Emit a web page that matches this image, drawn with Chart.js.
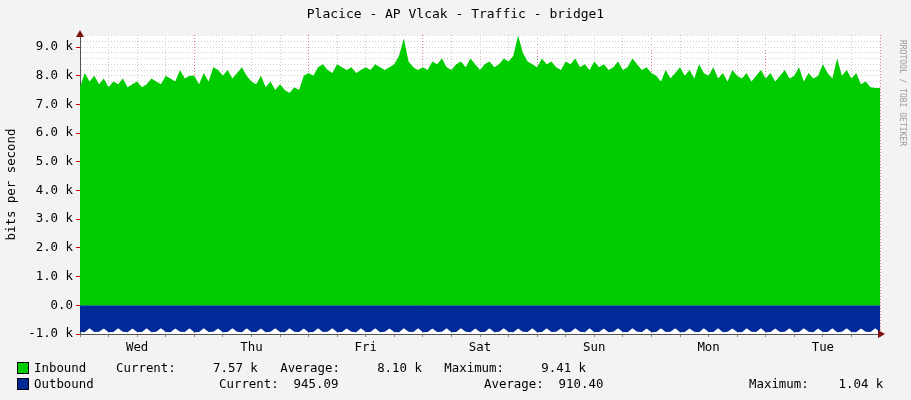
<!DOCTYPE html>
<html>
<head>
<meta charset="utf-8">
<script src="https://cdn.jsdelivr.net/npm/chart.js@4"></script>
<style>
  body { margin: 0; background: #f3f3f3; font-family: 'DejaVu Sans Mono', monospace; }
  #wrap { position: relative; width: 911px; height: 400px; }
  .t { position: absolute; font-size: 12.4px; color: #000; white-space: pre; }
  .box { position: absolute; width: 10px; height: 10px; border: 1px solid #000; }
  #side { position: absolute; left: 898px; top: 40px; font-size: 8px; color: #999; writing-mode: vertical-rl; }
</style>
</head>
<body>
<div id="wrap">
  <canvas id="myChart" width="911" height="400"></canvas>
  <div class="t" style="left:0;width:911px;text-align:center;top:6px;font-size:13px">Placice - AP Vlcak - Traffic - bridge1</div>
  <div id="side">RRDTOOL / TOBI OETIKER</div>
  <div class="box" style="left:17px;top:362px;background:#00cc00"></div>
  <div class="t" style="left:34px;top:360px">Inbound    Current:     7.57 k   Average:     8.10 k   Maximum:     9.41 k</div>
  <div class="box" style="left:17px;top:378px;background:#002a97"></div>
  <div class="t" style="left:34px;top:376px">Outbound</div>
  <div class="t" style="left:219px;top:376px">Current:  945.09</div>
  <div class="t" style="left:484px;top:376px">Average:  910.40</div>
  <div class="t" style="left:749px;top:376px">Maximum:    1.04 k</div>
</div>
<script>
const dayLabels = ['Wed', 'Thu', 'Fri', 'Sat', 'Sun', 'Mon', 'Tue'];

// inbound, k bits/s, hourly from Wed 00:00
const inbound = [
  7.6,8.1,7.8,8.0,7.7,7.9,7.6,7.8,7.7,7.9,7.6,7.7,7.8,7.6,7.7,7.9,7.8,7.7,8.0,7.9,7.8,8.2,7.9,8.0,
  8.0,7.7,8.1,7.8,8.3,8.2,8.0,8.2,7.9,8.1,8.3,8.0,7.8,7.7,8.0,7.6,7.8,7.5,7.7,7.5,7.4,7.6,7.5,8.0,
  8.1,8.0,8.3,8.4,8.2,8.1,8.4,8.3,8.2,8.3,8.1,8.2,8.3,8.2,8.4,8.3,8.2,8.3,8.4,8.7,9.3,8.5,8.3,8.2,
  8.3,8.2,8.5,8.4,8.6,8.3,8.2,8.4,8.5,8.3,8.6,8.4,8.2,8.4,8.5,8.3,8.4,8.6,8.5,8.7,9.4,8.8,8.5,8.4,
  8.3,8.6,8.4,8.5,8.3,8.2,8.5,8.4,8.6,8.3,8.4,8.2,8.5,8.3,8.4,8.2,8.3,8.5,8.2,8.3,8.6,8.4,8.2,8.3,
  8.1,8.0,7.8,8.2,7.9,8.1,8.3,8.0,8.2,7.9,8.4,8.1,8.0,8.3,7.9,8.1,7.8,8.2,8.0,7.9,8.1,7.8,8.0,8.2,
  7.9,8.1,7.8,8.0,8.2,7.9,8.0,8.3,7.8,8.1,7.9,8.0,8.4,8.1,7.9,8.6,8.0,8.2,7.9,8.1,7.7,7.8,7.6,7.57,7.57
];

// outbound, drawn negative, k bits/s
const outbound = [
  -0.93,-0.94,-0.80,-0.93,-0.92,-0.81,-0.94,-0.93,-0.80,-0.92,-0.94,-0.81,-0.93,-0.93,-0.80,-0.94,-0.92,-0.80,
  -0.93,-0.94,-0.81,-0.92,-0.93,-0.80,-0.94,-0.93,-0.80,-0.93,-0.92,-0.81,-0.94,-0.93,-0.80,-0.92,-0.94,-0.80,
  -0.93,-0.93,-0.81,-0.94,-0.92,-0.80,-0.93,-0.94,-0.80,-0.92,-0.93,-0.81,-0.94,-0.93,-0.80,-0.93,-0.92,-0.80,
  -0.94,-0.93,-0.81,-0.92,-0.94,-0.80,-0.93,-0.93,-0.80,-0.94,-0.92,-0.81,-0.93,-0.94,-0.80,-0.92,-0.93,-0.80,
  -0.94,-0.93,-0.81,-0.93,-0.92,-0.80,-0.94,-0.93,-0.80,-0.92,-0.94,-0.81,-0.93,-0.93,-0.80,-0.94,-0.92,-0.80,
  -0.93,-0.94,-0.81,-0.92,-0.93,-0.80,-0.94,-0.93,-0.80,-0.93,-0.92,-0.81,-0.94,-0.93,-0.80,-0.92,-0.94,-0.80,
  -0.93,-0.93,-0.81,-0.94,-0.92,-0.80,-0.93,-0.94,-0.80,-0.92,-0.93,-0.81,-0.94,-0.93,-0.80,-0.93,-0.92,-0.80,
  -0.94,-0.93,-0.81,-0.92,-0.94,-0.80,-0.93,-0.93,-0.80,-0.94,-0.92,-0.81,-0.93,-0.94,-0.80,-0.92,-0.93,-0.80,
  -0.94,-0.93,-0.81,-0.93,-0.92,-0.80,-0.94,-0.93,-0.80,-0.92,-0.94,-0.81,-0.93,-0.93,-0.80,-0.94,-0.92,-0.80,
  -0.93,-0.94,-0.81,-0.92,-0.93,-0.80,-0.94
];

const pts = arr => arr.map((v, i) => ({ x: i, y: v }));

// white plot area + axis arrows
const plotBg = {
  id: 'plotBg',
  beforeDraw(chart) {
    const { ctx, chartArea: a } = chart;
    ctx.save();
    ctx.fillStyle = '#ffffff';
    ctx.fillRect(a.left, a.top, a.right - a.left, a.bottom - a.top);
    ctx.restore();
  },
  afterDraw(chart) {
    const { ctx, chartArea: a } = chart;
    const y0 = chart.scales.y.getPixelForValue(-1);
    ctx.save();
    ctx.fillStyle = '#7f1010';
    ctx.beginPath();
    ctx.moveTo(a.left - 4, a.top + 2); ctx.lineTo(a.left + 4, a.top + 2); ctx.lineTo(a.left, a.top - 5);
    ctx.fill();
    ctx.beginPath();
    ctx.moveTo(a.right - 2, y0 - 4); ctx.lineTo(a.right - 2, y0 + 4); ctx.lineTo(a.right + 5, y0);
    ctx.fill();
    ctx.restore();
  }
};

const ctx = document.getElementById('myChart').getContext('2d');
Chart.defaults.font.family = 'DejaVu Sans Mono';
Chart.defaults.font.size = 12.4;
Chart.defaults.color = '#000';

const myChart = new Chart(ctx, {
  type: 'line',
  data: {
    datasets: [
      { label: 'Inbound', data: pts(inbound), fill: 'origin', backgroundColor: '#00cc00',
        borderWidth: 0, pointRadius: 0, tension: 0 },
      { label: 'Outbound', data: pts(outbound), fill: 'origin', backgroundColor: '#002a97',
        borderWidth: 0, pointRadius: 0, tension: 0 }
    ]
  },
  options: {
    responsive: false,
    animation: false,
    layout: { padding: { left: 0, right: 31, top: 35, bottom: 46 } },
    plugins: { legend: { display: false }, tooltip: { enabled: false } },
    scales: {
      x: {
        type: 'linear', min: 0, max: 168,
        ticks: { stepSize: 6, autoSkip: false, maxRotation: 0,
          callback: v => (v % 24 === 12 ? dayLabels[(v - 12) / 24] : '') },
        grid: { color: c => (c.tick.value % 24 === 0 && c.tick.value > 0 ? '#e08080' : '#c8c8c8'),
          tickColor: '#888', tickLength: 3 },
        border: { color: '#555', dash: [1, 2] },
        afterFit: s => { s.height = 20; }
      },
      y: {
        min: -1.0, max: 9.42,
        ticks: { stepSize: 0.2, autoSkip: false,
          callback: v => {
            const r = Math.round(v * 10) / 10;
            if (Math.abs(r - Math.round(r)) > 0.01) return '';
            return r === 0 ? '0.0' : r.toFixed(1) + ' k';
          } },
        grid: { color: '#d0d0d0', tickColor: c => (Math.abs(c.tick.value - Math.round(c.tick.value)) < 0.01 ? '#c00' : 'transparent'), tickLength: 4 },
        border: { color: '#555', dash: [1, 2] },
        title: { display: true, text: 'bits per second', padding: 4 },
        afterFit: s => { s.width = 80; }
      }
    }
  },
  plugins: [plotBg]
});
</script>
</body>
</html>
